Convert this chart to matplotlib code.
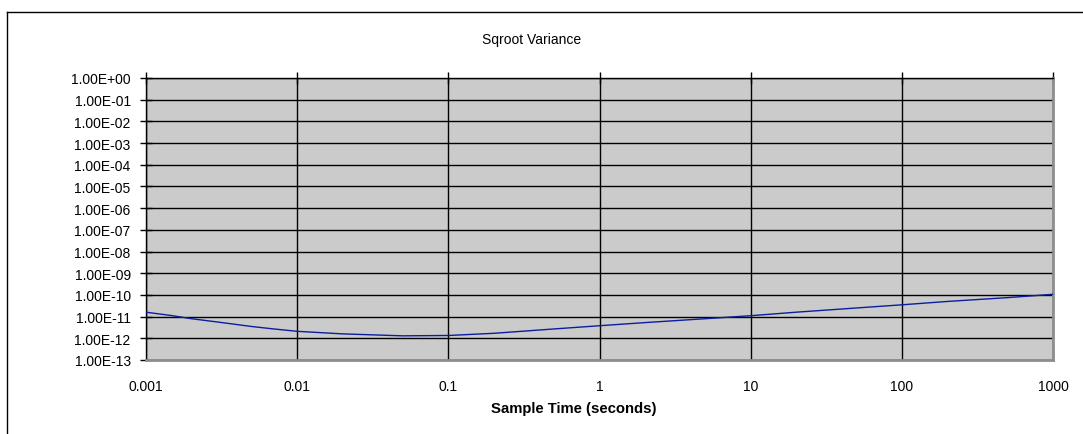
import matplotlib
matplotlib.use("Agg")
import matplotlib.pyplot as plt
from matplotlib.lines import Line2D
from matplotlib.ticker import FixedLocator, NullLocator

plt.rcParams['font.family'] = ['Liberation Sans', 'DejaVu Sans']

# Data
sample_time = [0.001, 0.0015, 0.002, 0.003, 0.005, 0.007, 0.01, 0.02, 0.05, 0.1,
               0.2, 0.5, 1, 2, 5, 10, 20, 50, 100, 200, 500, 1000]
sqroot_variance = [1.6e-11, 1.1e-11, 8.0e-12, 5.6e-12, 3.5e-12, 2.7e-12,
                   2.1e-12, 1.6e-12, 1.3e-12, 1.35e-12, 1.7e-12, 2.7e-12,
                   3.8e-12, 5.3e-12, 8.0e-12, 1.1e-11, 1.6e-11, 2.5e-11,
                   3.5e-11, 5.0e-11, 7.5e-11, 1.07e-10]

x_ticks = [0.001, 0.01, 0.1, 1, 10, 100, 1000]
x_tick_labels = ["0.001", "0.01", "0.1", "1", "10", "100", "1000"]
y_ticks = [10.0 ** (-k) for k in range(0, 14)]
y_tick_labels = ["1.00E+00"] + ["1.00E-%02d" % k for k in range(1, 14)]

W, H = 1083, 435
fig = plt.figure(figsize=(W / 100, H / 100), dpi=100)
fig.patch.set_facecolor('white')

# outer chart border (clipped at right and bottom)
fig.add_artist(Line2D([7.3 / W, 1.0], [1 - 13.3 / H, 1 - 13.3 / H],
                      transform=fig.transFigure, color='black', lw=1.0))
fig.add_artist(Line2D([7.3 / W, 7.3 / W], [1 - 13.3 / H, 0.0],
                      transform=fig.transFigure, color='black', lw=1.0))

left, right, top, bottom = 146, 1053, 79, 361
ax = fig.add_axes([left / W, 1 - bottom / H, (right - left) / W, (bottom - top) / H])
ax.set_facecolor('#CBCBCB')
ax.set_xscale('log')
ax.set_yscale('log')
ax.set_xlim(0.001, 1000)
ax.set_ylim(1e-13, 1.0)

ax.plot(sample_time, sqroot_variance, color='#0A1E9E', lw=1.0, zorder=3,
        solid_joinstyle='round')

ax.xaxis.set_major_locator(FixedLocator(x_ticks))
ax.xaxis.set_minor_locator(NullLocator())
ax.set_xticks(x_ticks)
ax.set_xticklabels(x_tick_labels)
ax.yaxis.set_major_locator(FixedLocator(y_ticks))
ax.yaxis.set_minor_locator(NullLocator())
ax.set_yticks(y_ticks)
ax.set_yticklabels(y_tick_labels)

ax.grid(True, which='major', color='black', lw=1.0, zorder=1)
ax.set_axisbelow(True)

ax.tick_params(axis='y', which='major', direction='inout', length=8, width=1.0,
               labelsize=10, pad=7, left=True, right=False)
ax.tick_params(axis='x', which='major', direction='inout', length=8, width=1.0,
               labelsize=10, pad=10, top=True, bottom=False,
               labeltop=False, labelbottom=True)

for side in ['top', 'left']:
    ax.spines[side].set_color('black')
    ax.spines[side].set_linewidth(1.0)
for side in ['right', 'bottom']:
    ax.spines[side].set_color('#8E8E8E')
    ax.spines[side].set_linewidth(2.0)

fig.text(532 / W, 1 - 40 / H, "Sqroot Variance", ha='center', va='center', fontsize=10)
fig.text(574 / W, 1 - 409 / H, "Sample Time (seconds)", ha='center', va='center',
         fontsize=10.7, fontweight='bold')

fig.savefig('out.png', dpi=100)
